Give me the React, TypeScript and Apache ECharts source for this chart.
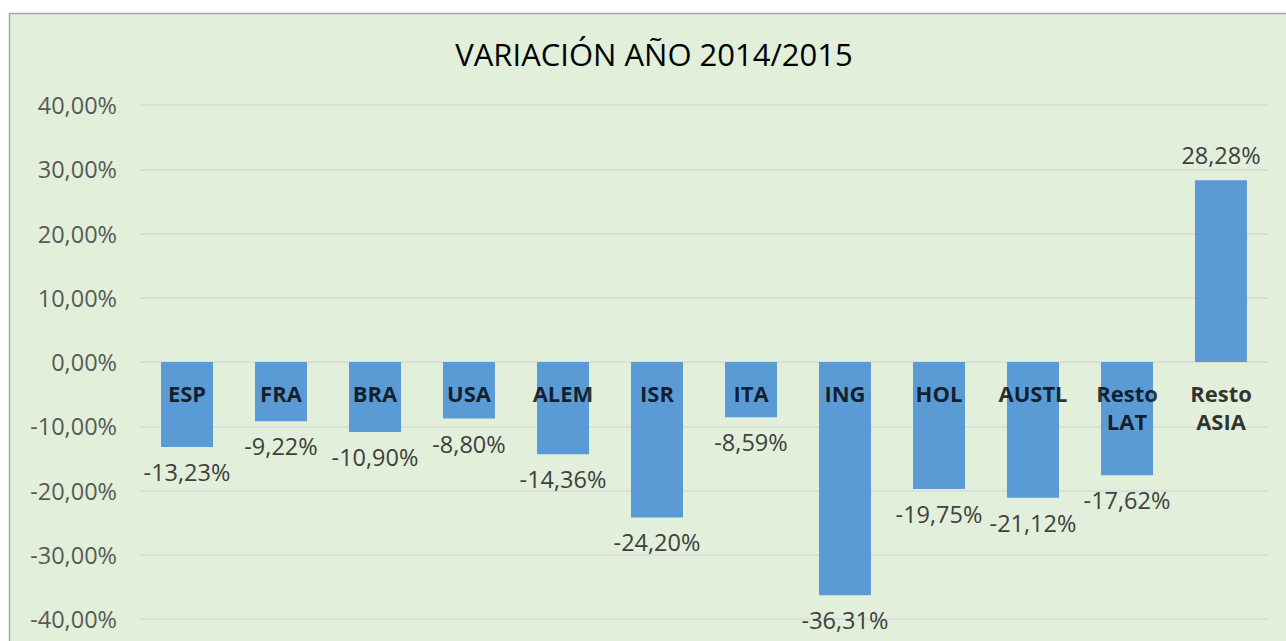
import React, { useEffect, useRef } from "react";
import * as echarts from "echarts";

const titleText = "VARIACIÓN AÑO 2014/2015";
const categories = ["ESP", "FRA", "BRA", "USA", "ALEM", "ISR", "ITA", "ING", "HOL", "AUSTL", "Resto\nLAT", "Resto\nASIA"];
const variation = [-13.23, -9.22, -10.9, -8.8, -14.36, -24.2, -8.59, -36.31, -19.75, -21.12, -17.62, 28.28];
const yMin = -40;
const yMax = 40;
const yStep = 10;

const fmt = (v: number) => v.toFixed(2).replace(".", ",") + "%";

export default function App() {
  const ref = useRef<HTMLDivElement>(null);
  useEffect(() => {
    if (!ref.current) return;
    const chart = echarts.init(ref.current, undefined, { renderer: "svg" });
    chart.setOption({
      animation: false,
      backgroundColor: "#ffffff",
      textStyle: { fontFamily: "Open Sans" },
      graphic: [
        {
          type: "rect",
          z: -10,
          silent: true,
          shape: { x: 9.5, y: 13.5, width: 1300, height: 700 },
          style: { fill: "#e2efda", stroke: "#a6a6a6", lineWidth: 1.5 },
        },
        {
          type: "text",
          x: 654,
          y: 54,
          style: {
            text: titleText,
            fill: "#000000",
            font: "31px 'Open Sans'",
            textAlign: "center",
            textVerticalAlign: "middle",
          },
        },
      ],
      grid: {
        left: 140,
        right: 18,
        top: 105,
        bottom: 22,
        containLabel: false,
        outerBoundsMode: "none",
      },
      xAxis: {
        type: "category",
        data: categories,
        axisLine: { show: false },
        axisTick: { show: false },
        axisLabel: { show: false },
      },
      yAxis: {
        type: "value",
        min: yMin,
        max: yMax,
        interval: yStep,
        axisLine: { show: false },
        axisTick: { show: false },
        splitLine: { lineStyle: { color: "#d9d9d9", width: 1.5 } },
        axisLabel: {
          margin: 23,
          color: "#595959",
          fontSize: 23.5,
          fontFamily: "Open Sans",
          formatter: (v: number) => fmt(v),
        },
      },
      series: [
        {
          type: "bar",
          data: variation,
          barWidth: 52,
          itemStyle: { color: "#5b9bd5" },
          label: {
            show: true,
            position: "outside",
            distance: 13,
            color: "#404040",
            fontSize: 23.5,
            fontFamily: "Open Sans",
            formatter: (p: any) => fmt(p.value),
          },
        },
        {
          type: "scatter",
          z: 5,
          silent: true,
          symbolSize: 0,
          data: categories.map((c) => [c, 0]),
          label: {
            show: true,
            position: "bottom",
            distance: 17,
            color: "#000000",
            fontWeight: "bold",
            fontSize: 22,
            lineHeight: 28,
            fontFamily: "Open Sans",
            formatter: (p: any) => p.name || p.value[0],
          },
        },
      ],
    });
    return () => chart.dispose();
  }, []);
  return (
    <div
      ref={ref}
      style={{ position: "absolute", left: 0, top: 0, width: 1286, height: 641 }}
    />
  );
}
